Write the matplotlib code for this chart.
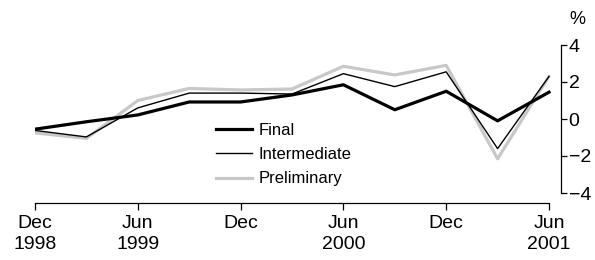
import numpy as np
import matplotlib.pyplot as plt

# quarterly data, Dec 1998 .. Jun 2001
quarters = np.arange(11)
final = [-0.55, -0.15, 0.22, 0.92, 0.92, 1.3, 1.85, 0.5, 1.5, -0.1, 1.45]
intermediate = [-0.62, -0.97, 0.6, 1.4, 1.4, 1.35, 2.45, 1.75, 2.55, -1.6, 2.3]
preliminary = [-0.75, -1.05, 1.0, 1.65, 1.57, 1.62, 2.85, 2.38, 2.9, -2.15, 2.3]

tick_pos = [0, 2, 4, 6, 8, 10]
tick_labels = ['Dec\n1998', 'Jun\n1999', 'Dec', 'Jun\n2000', 'Dec', 'Jun\n2001']
yticks = [-4, -2, 0, 2, 4]

plt.rcParams['font.family'] = ['Liberation Sans', 'DejaVu Sans']

W, H = 595, 260
fig = plt.figure(figsize=(W / 100, H / 100), dpi=100)
ax = fig.add_axes([35 / W, 57 / H, (561 - 35) / W, (203 - 45) / H])

ax.plot(quarters, preliminary, color='#c8c8c8', lw=2.3, label='Preliminary', zorder=2)
ax.plot(quarters, intermediate, color='black', lw=1.0, label='Intermediate', zorder=3)
ax.plot(quarters, final, color='black', lw=2.3, label='Final', zorder=4)

ax.set_xlim(0, 10 + 12 / 51.4)
ax.set_ylim(-4 - 10 / 18.5, 4)

for s in ['top', 'left']:
    ax.spines[s].set_visible(False)
ax.spines['bottom'].set_bounds(0, 10)
ax.spines['right'].set_bounds(-4, 4)
ax.spines['bottom'].set_linewidth(0.9)
ax.spines['right'].set_linewidth(0.9)

ax.set_xticks(tick_pos)
ax.set_xticklabels(tick_labels, fontsize=14, linespacing=1.3)
ax.tick_params(axis='x', direction='out', length=5, width=0.9, pad=3.5)

ax.yaxis.tick_right()
ax.set_yticks(yticks)
ax.set_yticklabels([str(v).replace('-', '\u2212') for v in yticks], fontsize=14)
ax.tick_params(axis='y', direction='out', length=4, width=0.9, pad=1.5)

fig.text(577 / W, 1 - 19 / H, '%', fontsize=13, ha='center', va='center')

handles, labels = ax.get_legend_handles_labels()
order = [2, 1, 0]
ax.legend([handles[i] for i in order], [labels[i] for i in order],
          loc='upper left', bbox_to_anchor=(216 / W, 1 - 123 / H),
          bbox_transform=fig.transFigure, frameon=False, fontsize=12,
          handlelength=2.15, handletextpad=0.4, labelspacing=0.55,
          borderpad=0, borderaxespad=0)

fig.savefig('out.png', dpi=100)
